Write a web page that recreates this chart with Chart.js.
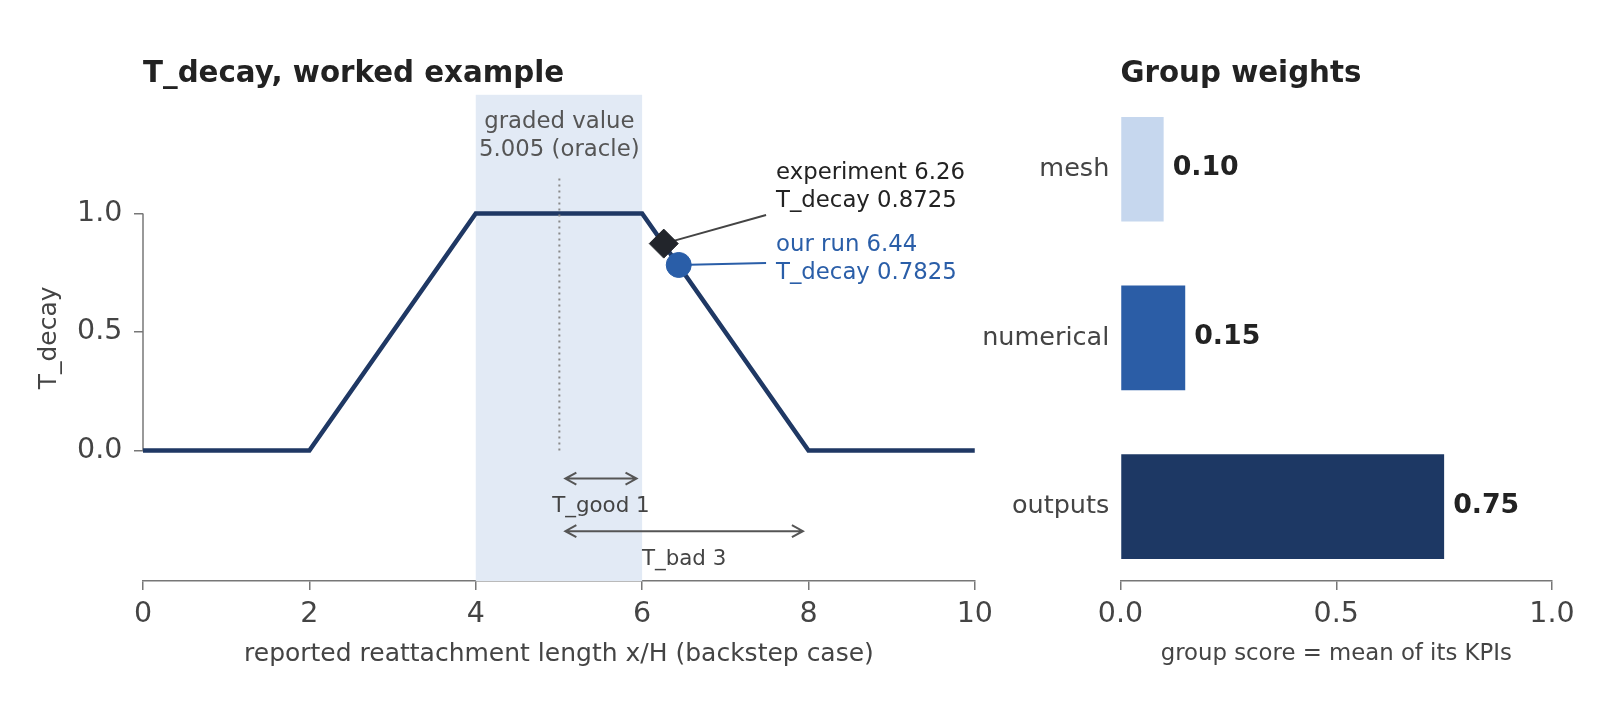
<!DOCTYPE html>
<html>
<head>
<meta charset="utf-8">
<script src="https://cdn.jsdelivr.net/npm/chart.js@4.4.1/dist/chart.umd.min.js"></script>
<style>
  body { margin: 0; background: #ffffff; }
  #page { position: relative; width: 1599px; height: 721px; overflow: hidden; }
  #decayChart { position: absolute; left: 0; top: 0; }
  #weightChart { position: absolute; left: 940px; top: 0; }
</style>
</head>
<body>
<div id="page">
  <canvas id="decayChart" width="1000" height="721"></canvas>
  <canvas id="weightChart" width="659" height="721"></canvas>
</div>
<script>
// ---- data ----
var curveX = [0, 2, 4, 6, 8, 10];
var curveY = [0, 0, 1, 1, 0, 0];
var goodBand = [4, 6];
var oracleValue = 5.005;
var experimentPoint = [6.26, 0.8725];
var ourRunPoint = [6.44, 0.7825];
var tGood = 1;
var tBad = 3;
var decayXTicks = [0, 2, 4, 6, 8, 10];
var decayYTicks = [0, 0.5, 1.0];

var groupNames = ["mesh", "numerical", "outputs"];
var groupWeights = [0.10, 0.15, 0.75];
var weightXTicks = [0, 0.5, 1.0];

// ---- look ----
var FONT = "'DejaVu Sans', 'Liberation Sans', sans-serif";
var AXIS_GREY = "#777777";
var TICK_TEXT = "#444444";
var NAVY = "#1f3864";
var BLUE = "#2a5ea8";
var barColors = ["#c6d7ee", "#2b5da6", "#1d3864"];

function drawTitle(chart, text) {
    var ctx = chart.ctx;
    ctx.save();
    ctx.font = "bold 29.3px " + FONT;
    ctx.fillStyle = "#222222";
    ctx.textAlign = "left";
    ctx.textBaseline = "middle";
    ctx.fillText(text, chart.chartArea.left, chart.chartArea.top - 20);
    ctx.restore();
}

function drawArrow(ctx, x1, x2, y) {
    var shrink = 6, head = 11, half = 6;
    var a = x1 + shrink, b = x2 - shrink;
    ctx.beginPath();
    ctx.moveTo(a, y); ctx.lineTo(b, y);
    ctx.moveTo(a + head, y - half); ctx.lineTo(a, y); ctx.lineTo(a + head, y + half);
    ctx.moveTo(b - head, y - half); ctx.lineTo(b, y); ctx.lineTo(b - head, y + half);
    ctx.stroke();
}

// band behind everything, and the short left spine (0..1 only)
var decayBackground = {
    id: "decayBackground",
    beforeDatasetsDraw: function (chart) {
        var ctx = chart.ctx, area = chart.chartArea;
        var xs = chart.scales.x, ys = chart.scales.y;
        var x0 = xs.getPixelForValue(goodBand[0]);
        var x1 = xs.getPixelForValue(goodBand[1]);
        ctx.save();
        ctx.fillStyle = "#e2eaf5";
        ctx.fillRect(x0, area.top, x1 - x0, area.bottom - area.top);

        ctx.strokeStyle = AXIS_GREY;
        ctx.lineWidth = 1.5;
        ctx.beginPath();
        ctx.moveTo(area.left, ys.getPixelForValue(decayYTicks[0]));
        ctx.lineTo(area.left, ys.getPixelForValue(decayYTicks[decayYTicks.length - 1]));
        ctx.stroke();

        // leader lines from the markers to their labels
        ctx.lineWidth = 2;
        ctx.strokeStyle = "#444444";
        ctx.beginPath();
        ctx.moveTo(xs.getPixelForValue(experimentPoint[0]), ys.getPixelForValue(experimentPoint[1]));
        ctx.lineTo(xs.getPixelForValue(7.49), ys.getPixelForValue(0.993));
        ctx.stroke();
        ctx.strokeStyle = BLUE;
        ctx.beginPath();
        ctx.moveTo(xs.getPixelForValue(ourRunPoint[0]), ys.getPixelForValue(ourRunPoint[1]));
        ctx.lineTo(xs.getPixelForValue(7.49), ys.getPixelForValue(0.791));
        ctx.stroke();
        ctx.restore();
    }
};

var decayNotes = {
    id: "decayNotes",
    afterDraw: function (chart) {
        var ctx = chart.ctx;
        var xs = chart.scales.x, ys = chart.scales.y;
        function px(v) { return xs.getPixelForValue(v); }
        function py(v) { return ys.getPixelForValue(v); }

        drawTitle(chart, "T_decay, worked example");

        ctx.save();
        ctx.textBaseline = "middle";

        ctx.font = "22.8px " + FONT;
        ctx.fillStyle = "#555555";
        ctx.textAlign = "center";
        ctx.fillText("graded value", px(oracleValue), py(1.384));
        ctx.fillText(oracleValue.toFixed(3) + " (oracle)", px(oracleValue), py(1.268));

        ctx.textAlign = "left";
        ctx.fillStyle = "#222222";
        ctx.fillText("experiment " + experimentPoint[0], px(7.61), py(1.169));
        ctx.fillText("T_decay " + experimentPoint[1], px(7.61), py(1.053));
        ctx.fillStyle = BLUE;
        ctx.fillText("our run " + ourRunPoint[0], px(7.61), py(0.868));
        ctx.fillText("T_decay " + ourRunPoint[1], px(7.61), py(0.748));

        // tolerance arrows
        ctx.strokeStyle = "#555555";
        ctx.lineWidth = 2;
        drawArrow(ctx, px(oracleValue), px(oracleValue + tGood), py(-0.118));
        drawArrow(ctx, px(oracleValue), px(oracleValue + tBad), py(-0.34));

        ctx.font = "21.4px " + FONT;
        ctx.fillStyle = "#444444";
        ctx.textAlign = "center";
        ctx.fillText("T_good " + tGood, px(oracleValue + tGood / 2), py(-0.237));
        ctx.fillText("T_bad " + tBad, px(oracleValue + tBad / 2), py(-0.46));
        ctx.restore();
    }
};

var decayCurve = [];
for (let i = 0; i < curveX.length; i++) {
    decayCurve.push({ x: curveX[i], y: curveY[i] });
}

new Chart(document.getElementById("decayChart").getContext("2d"), {
    type: "scatter",
    data: {
        datasets: [
            {
                data: decayCurve,
                showLine: true,
                borderColor: NAVY,
                borderWidth: 4.5,
                pointRadius: 0,
                tension: 0,
                order: 3
            },
            {
                data: [{ x: oracleValue, y: 0 }, { x: oracleValue, y: 1.15 }],
                showLine: true,
                borderColor: "#8a8a8a",
                borderWidth: 2,
                borderDash: [2, 4],
                pointRadius: 0,
                order: 2
            },
            {
                data: [{ x: experimentPoint[0], y: experimentPoint[1] }],
                pointStyle: "rectRot",
                pointRadius: 14.5,
                backgroundColor: "#22252b",
                borderColor: "#22252b",
                borderWidth: 1,
                order: 1
            },
            {
                data: [{ x: ourRunPoint[0], y: ourRunPoint[1] }],
                pointStyle: "circle",
                pointRadius: 12.5,
                backgroundColor: BLUE,
                borderColor: BLUE,
                borderWidth: 1,
                order: 0
            }
        ]
    },
    options: {
        responsive: false,
        animation: false,
        events: [],
        layout: { padding: { left: 0, right: 24.3, top: 94.8, bottom: 0 } },
        plugins: { legend: { display: false }, tooltip: { enabled: false } },
        scales: {
            x: {
                type: "linear",
                min: 0,
                max: 10,
                afterBuildTicks: function (scale) {
                    scale.ticks = decayXTicks.map(function (v) { return { value: v }; });
                },
                ticks: {
                    font: { family: FONT, size: 28.5 },
                    color: TICK_TEXT,
                    padding: 7,
                    maxRotation: 0,
                    callback: function (v) { return String(v); }
                },
                grid: { drawOnChartArea: false, drawTicks: true, tickLength: 9, color: AXIS_GREY, lineWidth: 1.5 },
                border: { display: true, color: AXIS_GREY, width: 1.5 },
                title: {
                    display: true,
                    text: "reported reattachment length x/H (backstep case)",
                    font: { family: FONT, size: 25 },
                    color: TICK_TEXT,
                    padding: { top: 0, bottom: 51.5 }
                },
                afterFit: function (scale) { scale.height = 140; }
            },
            y: {
                type: "linear",
                min: -0.55,
                max: 1.5,
                afterBuildTicks: function (scale) {
                    scale.ticks = decayYTicks.map(function (v) { return { value: v }; });
                },
                ticks: {
                    font: { family: FONT, size: 28.5 },
                    color: TICK_TEXT,
                    padding: 11.6,
                    callback: function (v) { return v.toFixed(1); }
                },
                grid: { drawOnChartArea: false, drawTicks: true, tickLength: 9, color: AXIS_GREY, lineWidth: 1.5 },
                border: { display: false },
                title: {
                    display: true,
                    text: "T_decay",
                    font: { family: FONT, size: 25 },
                    color: TICK_TEXT,
                    padding: { top: 34, bottom: 0 }
                },
                afterFit: function (scale) { scale.width = 143; }
            }
        }
    },
    plugins: [decayBackground, decayNotes]
});

// ---- group weights ----
var weightBars = [];
for (let i = 0; i < groupNames.length; i++) {
    weightBars.push({ x: groupWeights[i], y: i });
}

var weightNotes = {
    id: "weightNotes",
    afterDraw: function (chart) {
        var ctx = chart.ctx;
        drawTitle(chart, "Group weights");
        var meta = chart.getDatasetMeta(0);
        ctx.save();
        ctx.font = "bold 26.8px " + FONT;
        ctx.fillStyle = "#222222";
        ctx.textAlign = "left";
        ctx.textBaseline = "middle";
        for (let i = 0; i < meta.data.length; i++) {
            var bar = meta.data[i];
            ctx.fillText(groupWeights[i].toFixed(2), bar.x + 9, bar.y - 1);
        }
        ctx.restore();
    }
};

new Chart(document.getElementById("weightChart").getContext("2d"), {
    type: "bar",
    data: {
        datasets: [{
            data: weightBars,
            backgroundColor: barColors,
            borderWidth: 0,
            barPercentage: 0.62,
            categoryPercentage: 1.0
        }]
    },
    options: {
        indexAxis: "y",
        responsive: false,
        animation: false,
        events: [],
        layout: { padding: { left: 0, right: 47, top: 94.8, bottom: 0 } },
        plugins: { legend: { display: false }, tooltip: { enabled: false } },
        scales: {
            x: {
                type: "linear",
                min: 0,
                max: 1,
                afterBuildTicks: function (scale) {
                    scale.ticks = weightXTicks.map(function (v) { return { value: v }; });
                },
                ticks: {
                    font: { family: FONT, size: 28.5 },
                    color: TICK_TEXT,
                    padding: 7,
                    maxRotation: 0,
                    callback: function (v) { return v.toFixed(1); }
                },
                grid: { drawOnChartArea: false, drawTicks: true, tickLength: 9, color: AXIS_GREY, lineWidth: 1.5 },
                border: { display: true, color: AXIS_GREY, width: 1.5 },
                title: {
                    display: true,
                    text: "group score = mean of its KPIs",
                    font: { family: FONT, size: 22.8 },
                    color: TICK_TEXT,
                    padding: { top: 0, bottom: 52.8 }
                },
                afterFit: function (scale) { scale.height = 140; }
            },
            y: {
                type: "linear",
                reverse: true,
                offset: false,
                grace: 0,
                bounds: "data",
                min: -0.441,
                max: 2.441,
                afterBuildTicks: function (scale) {
                    scale.ticks = groupNames.map(function (g, i) { return { value: i }; });
                },
                ticks: {
                    font: { family: FONT, size: 25.5 },
                    color: TICK_TEXT,
                    padding: 11.2,
                    autoSkip: false,
                    callback: function (v) { return groupNames[v]; }
                },
                grid: { display: false, drawTicks: false, offset: false },
                border: { display: false },
                afterFit: function (scale) { scale.width = 180.5; }
            }
        }
    },
    plugins: [weightNotes]
});
</script>
</body>
</html>
